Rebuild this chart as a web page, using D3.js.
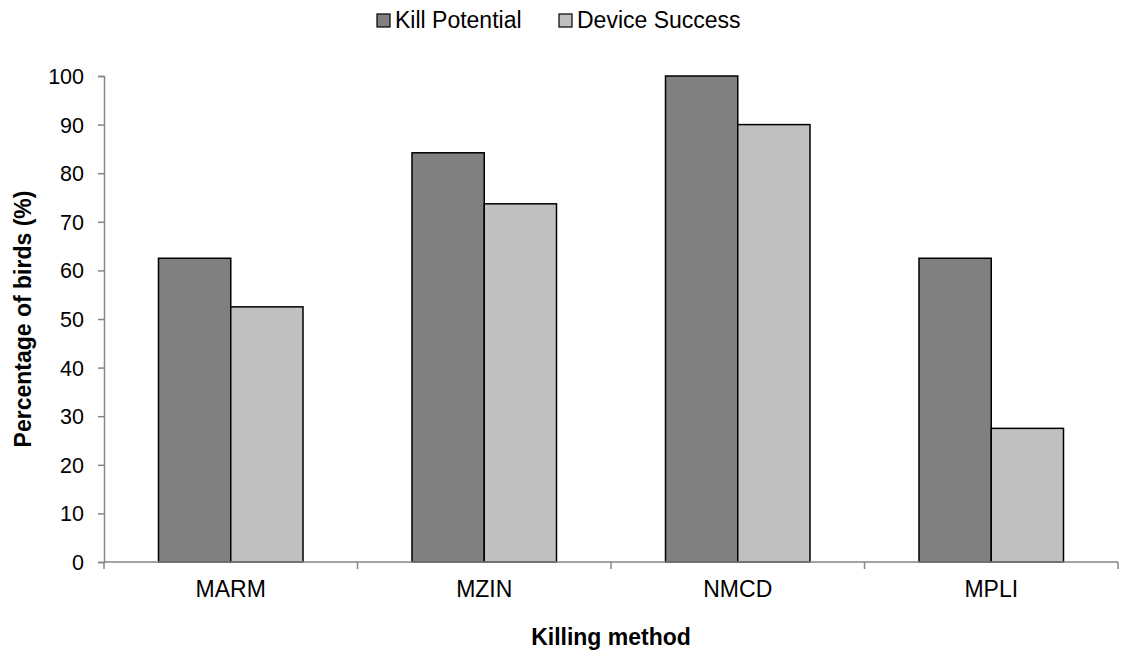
<!DOCTYPE html>
<html>
<head>
<meta charset="utf-8">
<script src="https://cdn.jsdelivr.net/npm/d3@7"></script>
<style>
  body { margin: 0; background: #fff; }
  text { font-family: "Liberation Sans", Arial, sans-serif; fill: #000; }
</style>
</head>
<body>
<div id="container"></div>
<script>
const categories = ['MARM', 'MZIN', 'NMCD', 'MPLI'];
const seriesNames = ['Kill Potential', 'Device Success'];
const killPotential = [62.5, 84.2, 100, 62.5];
const deviceSuccess = [52.5, 73.7, 90, 27.5];
const yTicks = [0, 10, 20, 30, 40, 50, 60, 70, 80, 90, 100];
const colors = ['#808080', '#c0c0c0'];

const W = 1121, H = 652;
const margin = { top: 76, right: 3, bottom: 90, left: 104 };
const width = W - margin.left - margin.right;
const height = H - margin.top - margin.bottom;

const data = categories.map((c, i) => ({ cat: c, values: [killPotential[i], deviceSuccess[i]] }));

const svg = d3.select('#container')
  .append('svg')
  .attr('width', W)
  .attr('height', H);

const g = svg.append('g')
  .attr('transform', 'translate(' + margin.left + ',' + margin.top + ')');

const xScale = d3.scaleBand()
  .domain(categories)
  .range([0, width])
  .paddingInner(0.43)
  .paddingOuter(0.215);

const xInner = d3.scaleBand()
  .domain(seriesNames)
  .range([0, xScale.bandwidth()]);

const yScale = d3.scaleLinear()
  .domain([0, 100])
  .range([height, 0]);

// y axis
const yAxis = d3.axisLeft(yScale).tickValues(yTicks).tickSize(6).tickPadding(14);
const yG = g.append('g').call(yAxis);
yG.select('.domain').attr('stroke', '#868686').attr('stroke-width', 1.5);
yG.selectAll('.tick line').attr('stroke', '#868686').attr('stroke-width', 1.5);
yG.selectAll('.tick text').style('font-size', '21.5px').attr('dy', '0.35em');

// bars
const groups = g.selectAll('.grp')
  .data(data)
  .enter()
  .append('g')
  .attr('class', 'grp')
  .attr('transform', d => 'translate(' + xScale(d.cat) + ',0)');

groups.selectAll('rect')
  .data(d => d.values.map((v, i) => ({ key: seriesNames[i], value: v, idx: i })))
  .enter()
  .append('rect')
  .attr('x', d => xInner(d.key))
  .attr('width', xInner.bandwidth())
  .attr('y', d => yScale(d.value))
  .attr('height', d => height - yScale(d.value))
  .style('fill', d => colors[d.idx])
  .style('stroke', '#000')
  .style('stroke-width', 1.5);

// x axis
const xG = g.append('g').attr('transform', `translate(0, ${height})`);
xG.append('path')
  .attr('d', `M0,0H${width}`)
  .attr('stroke', '#868686')
  .attr('stroke-width', 1.5);
const boundaries = d3.range(categories.length + 1).map(i => i * width / categories.length);
xG.selectAll('.xt')
  .data(boundaries)
  .enter()
  .append('line')
  .attr('x1', d => d).attr('x2', d => d)
  .attr('y1', 0).attr('y2', 7)
  .attr('stroke', '#868686')
  .attr('stroke-width', 1.5);
xG.selectAll('.xl')
  .data(categories)
  .enter()
  .append('text')
  .attr('x', d => xScale(d) + xScale.bandwidth() / 2)
  .attr('y', 35)
  .attr('text-anchor', 'middle')
  .style('font-size', '23px')
  .text(d => d);

// axis titles
svg.append('text')
  .attr('x', margin.left + width / 2)
  .attr('y', 645)
  .attr('text-anchor', 'middle')
  .style('font-size', '23px')
  .style('font-weight', 'bold')
  .text('Killing method');

svg.append('text')
  .attr('transform', `translate(31, ${margin.top + height / 2}) rotate(-90)`)
  .attr('text-anchor', 'middle')
  .style('font-size', '23px')
  .style('font-weight', 'bold')
  .text('Percentage of birds (%)');

// legend
const legendX = [377, 559];
const legend = svg.append('g');
seriesNames.forEach((s, i) => {
  legend.append('rect')
    .attr('x', legendX[i]).attr('y', 14)
    .attr('width', 13).attr('height', 13)
    .style('fill', colors[i])
    .style('stroke', '#000')
    .style('stroke-width', 1.2);
  legend.append('text')
    .attr('x', legendX[i] + 18).attr('y', 28)
    .style('font-size', '23px')
    .text(s);
});
</script>
</body>
</html>
